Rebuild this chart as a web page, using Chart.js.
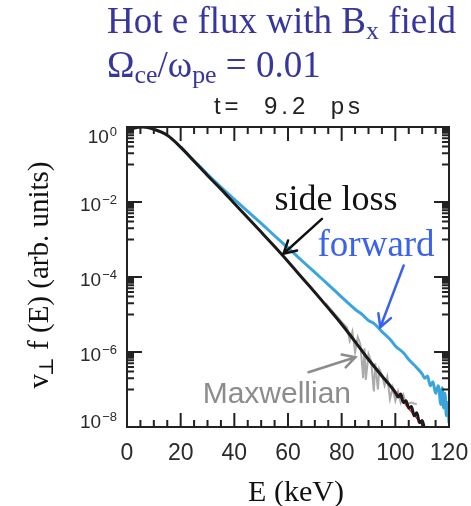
<!DOCTYPE html>
<html lang="en">
<head>
<meta charset="UTF-8">
<title>Hot e flux with Bx field</title>
<script src="https://cdn.jsdelivr.net/npm/chart.js@4.4.1/dist/chart.umd.min.js"></script>
<style>
  body { margin: 0; background: #fff; }
  #wrap { position: relative; width: 471px; height: 506px; }
  #plot { position: absolute; left: 0; top: 0; }
  .head {
    position: absolute; left: 107px; white-space: nowrap;
    font: 37px/37px 'Liberation Serif', serif; color: #36369c;
  }
  .head sub { font-size: 0.7em; vertical-align: -0.25em; line-height: 0; }
  #time {
    position: absolute; left: 0; width: 578px; text-align: center; top: 94px;
    font: 24px/24px 'Liberation Sans', sans-serif; letter-spacing: 4px;
    color: #222; white-space: pre;
  }
</style>
</head>
<body>
<div id="wrap">
  <canvas id="plot" width="471" height="506"></canvas>
  <div class="head" style="top:2px">Hot e flux with B<sub>x</sub> field</div>
  <div class="head" style="top:46px">Ω<sub>ce</sub>/ω<sub>pe</sub> = 0.01</div>
  <div id="time">t=  9.2  ps</div>
</div>

<script>
  // side loss spectrum (black)
  const sideE = [1, 3, 6, 10, 15, 20, 25, 30, 35, 40, 45, 50, 55, 60, 65, 70, 75, 80, 85, 90, 95,
                 100, 101, 102, 103, 104, 105, 106, 107, 108, 109, 110, 111];
  const sideF = [7.9e-1, 9.5e-1, 1.0, 8.7e-1, 6.0e-1, 2.9e-1, 1.22e-1, 5.1e-2, 2.2e-2, 9.1e-3,
                 3.8e-3, 1.58e-3, 6.5e-4, 2.6e-4, 1.0e-4, 3.9e-5, 1.48e-5, 5.5e-6, 1.9e-6, 6.3e-7, 2.3e-7,
                 8.3e-8, 6.3e-8, 7.6e-8, 4.5e-8, 5.0e-8, 3.2e-8, 3.5e-8, 2.0e-8, 2.4e-8, 1.3e-8, 1.5e-8, 8e-9];

  // forward spectrum (blue)
  const fwdE = [20, 25, 30, 35, 40, 45, 50, 55, 60, 65, 70, 75, 80, 85, 88, 90, 92, 95, 98, 100, 103, 105,
                108, 110, 111, 112, 113, 114, 115, 116, 117, 117.5, 118, 118.5, 119, 119.5, 120];
  const fwdF = [2.9e-1, 1.26e-1, 5.5e-2, 2.5e-2, 1.17e-2, 5.6e-3, 2.7e-3, 1.26e-3, 6.0e-4, 2.8e-4, 1.32e-4,
                6.3e-5, 2.9e-5, 1.38e-5, 9.5e-6, 6.9e-6, 5.8e-6, 3.5e-6, 2.2e-6, 1.45e-6, 9.5e-7, 6.3e-7,
                3.8e-7, 2.6e-7, 2.0e-7, 2.3e-7, 1.26e-7, 1.6e-7, 7.9e-8, 1.26e-7, 4.0e-8, 1.12e-7, 3.2e-8,
                7.9e-8, 2.0e-8, 4.5e-8, 1.26e-8];

  // Maxwellian fit (red), mostly hidden under the side loss curve
  const maxwE = [60, 70, 80, 85, 90, 95, 100, 105, 110, 112];
  const maxwF = [2.6e-4, 3.9e-5, 5.6e-6, 1.95e-6, 6.6e-7, 2.4e-7, 9.0e-8, 3.1e-8, 1.15e-8, 7.6e-9];

  // sampled Maxwellian, noisy tail (grey)
  const noiseE = [74, 77, 80, 82, 83, 84, 85, 86, 87, 88, 88.5, 89, 90, 91, 92, 92.5, 93.5, 94, 95, 96, 97,
                  98, 99, 100, 101, 102, 103, 104, 106, 108];
  const noiseF = [2.0e-5, 1.12e-5, 6.3e-6, 4.5e-6, 2.0e-6, 3.5e-6, 1.0e-6, 2.5e-6, 1.6e-6, 2.0e-7, 1.26e-6,
                  1.8e-7, 8.9e-7, 5.6e-7, 8.9e-8, 5.0e-7, 1.0e-7, 3.5e-7, 2.5e-7, 1.26e-7, 2.2e-7, 5.6e-8,
                  1.12e-7, 5.0e-8, 8.9e-8, 4.5e-8, 7.1e-8, 4.0e-8, 4.5e-8, 4.0e-8];

  const xTicks = [0, 20, 40, 60, 80, 100, 120];
  const yDecades = [0, -2, -4, -6, -8];

  const pts = (xs, ys) => xs.map((e, i) => ({x: e, y: ys[i]}));

  // text labels and arrows, placed in data coordinates
  const notes = [
    {text: 'side loss', e: 55.0, f: 6.3e-3, color: '#111', font: "36px 'Liberation Serif'"},
    {text: 'forward', e: 71.0, f: 3.74e-4, color: '#3a62ee', font: "37px 'Liberation Serif'"},
    {text: 'Maxwellian', e: 28.2, f: 4.47e-8, color: '#8c8c8c', font: "30px 'Liberation Sans'"}
  ];
  const arrows = [
    {from: [72.65, 3.56e-3], to: [58.3, 4.16e-4], color: '#111'},
    {from: [103.1, 2.03e-4], to: [94.4, 4.58e-6], color: '#3a62ee'},
    {from: [67.65, 2.89e-7], to: [85.1, 7.26e-7], color: '#8c8c8c'}
  ];

  const frame = {
    id: 'frame',
    afterDraw(chart) {
      const {ctx, chartArea: a, scales: {x, y}} = chart;
      ctx.save();

      // box and inward ticks on all four sides
      ctx.strokeStyle = '#222';
      ctx.lineWidth = 2;
      ctx.strokeRect(a.left, a.top, a.right - a.left, a.bottom - a.top);
      ctx.beginPath();
      for (let e = 0; e <= 120; e += 5) {
        const px = x.getPixelForValue(e);
        const len = e % 20 === 0 ? 14 : 7;
        ctx.moveTo(px, a.bottom); ctx.lineTo(px, a.bottom - len);
        ctx.moveTo(px, a.top); ctx.lineTo(px, a.top + len);
      }
      yDecades.forEach(d => {
        const major = y.getPixelForValue(Math.pow(10, d));
        ctx.moveTo(a.left, major); ctx.lineTo(a.left + 15, major);
        ctx.moveTo(a.right, major); ctx.lineTo(a.right - 15, major);
        if (d === yDecades[yDecades.length - 1]) return;
        for (let k = 1; k <= 9; k++) {
          const py = y.getPixelForValue(k * Math.pow(10, d - 1));
          ctx.moveTo(a.left, py); ctx.lineTo(a.left + 7, py);
          ctx.moveTo(a.right, py); ctx.lineTo(a.right - 7, py);
        }
      });
      ctx.stroke();

      // x tick labels
      ctx.fillStyle = '#2a2a2a';
      ctx.font = "23px 'Liberation Sans'";
      ctx.textAlign = 'center';
      ctx.textBaseline = 'alphabetic';
      xTicks.forEach(v => ctx.fillText(String(v), x.getPixelForValue(v), 460));

      // y tick labels 10^n
      ctx.textAlign = 'right';
      yDecades.forEach(d => {
        const py = y.getPixelForValue(Math.pow(10, d));
        const cy = Math.min(Math.max(py + 1.5, a.top + 8.5), a.bottom - 6);
        const sup = d === 0 ? '0' : '\u2212' + (-d);
        ctx.font = "13px 'Liberation Sans'";
        const sw = ctx.measureText(sup).width;
        ctx.fillText(sup, 117, cy);
        ctx.font = "19px 'Liberation Sans'";
        ctx.fillText('10', 117 - sw - 1, cy + 7);
      });

      // axis titles
      ctx.fillStyle = '#111';
      ctx.textAlign = 'center';
      ctx.font = "30px 'Liberation Serif'";
      ctx.fillText('E (keV)', 296, 501);

      ctx.save();
      ctx.translate(48, 274);
      ctx.rotate(-Math.PI / 2);
      ctx.textAlign = 'left';
      const big = "29px 'Liberation Serif'", small = "20px 'DejaVu Serif'";
      ctx.font = big;
      const wv = ctx.measureText('v').width;
      const rest = ' f (E) (arb. units)';
      const wr = ctx.measureText(rest).width;
      ctx.font = small;
      const wp = ctx.measureText('\u22a5').width;
      let sx = -(wv + wp + wr) / 2;
      ctx.font = big;
      ctx.fillText('v', sx, 0);
      ctx.font = small;
      ctx.fillText('\u22a5', sx + wv - 2, 5);
      ctx.font = big;
      ctx.fillText(rest, sx + wv + wp - 2, 0);
      ctx.restore();

      // annotations
      ctx.textAlign = 'left';
      notes.forEach(n => {
        ctx.font = n.font;
        ctx.fillStyle = n.color;
        ctx.fillText(n.text, x.getPixelForValue(n.e), y.getPixelForValue(n.f));
      });
      ctx.lineWidth = 2.5;
      ctx.lineCap = 'round';
      arrows.forEach(r => {
        const x0 = x.getPixelForValue(r.from[0]), y0 = y.getPixelForValue(r.from[1]);
        const x1 = x.getPixelForValue(r.to[0]), y1 = y.getPixelForValue(r.to[1]);
        const ang = Math.atan2(y1 - y0, x1 - x0);
        ctx.strokeStyle = r.color;
        ctx.beginPath();
        ctx.moveTo(x0, y0); ctx.lineTo(x1, y1);
        ctx.moveTo(x1 - 14 * Math.cos(ang - 0.5), y1 - 14 * Math.sin(ang - 0.5));
        ctx.lineTo(x1, y1);
        ctx.lineTo(x1 - 14 * Math.cos(ang + 0.5), y1 - 14 * Math.sin(ang + 0.5));
        ctx.stroke();
      });
      ctx.restore();
    }
  };

  // first dataset is painted on top
  new Chart(document.getElementById('plot'), {
    type: 'line',
    data: {
      datasets: [
        {label: 'side loss', data: pts(sideE, sideF), borderColor: '#1a1a1a', borderWidth: 3,
         cubicInterpolationMode: 'monotone'},
        {label: 'Maxwellian', data: pts(maxwE, maxwF), borderColor: '#e02020', borderWidth: 1.5,
         cubicInterpolationMode: 'monotone'},
        {label: 'Maxwellian sample', data: pts(noiseE, noiseF), borderColor: '#ababab', borderWidth: 2},
        {label: 'forward', data: pts(fwdE, fwdF), borderColor: '#3aa5dc', borderWidth: 3,
         cubicInterpolationMode: 'monotone'}
      ]
    },
    options: {
      responsive: false,
      animation: false,
      devicePixelRatio: 1,
      layout: {padding: {left: 127, right: 22, top: 127, bottom: 79}},
      elements: {point: {radius: 0}, line: {tension: 0}},
      scales: {
        x: {type: 'linear', display: false, min: 0, max: 120},
        y: {type: 'logarithmic', display: false, min: 1e-8, max: 1}
      },
      plugins: {legend: {display: false}, tooltip: {enabled: false}}
    },
    plugins: [frame]
  });
</script>
</body>
</html>
